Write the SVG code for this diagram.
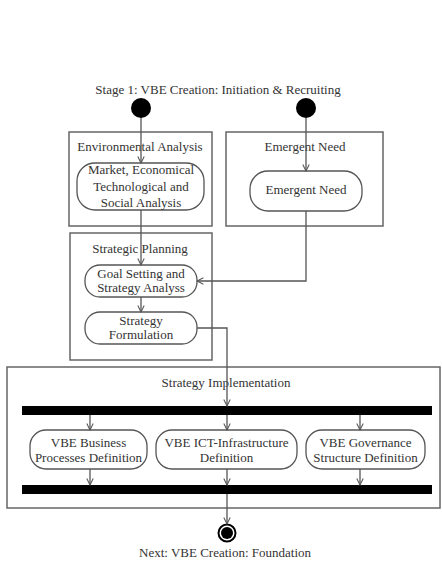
<svg xmlns="http://www.w3.org/2000/svg" width="442" height="564" viewBox="0 0 442 564">
<defs>
<style>
text{font-family:"Liberation Serif","Times New Roman",serif;font-size:13px;fill:#333;text-anchor:middle}
.box{fill:none;stroke:#666;stroke-width:1.5}
.act{fill:#fff;stroke:#555;stroke-width:1.3}
.bar{fill:#000}
.con{fill:none;stroke:#555;stroke-width:1.3}
</style>
<marker id="arr" viewBox="0 0 10 10" refX="9" refY="5" markerWidth="8" markerHeight="8" orient="auto" markerUnits="userSpaceOnUse">
<path d="M1,1 L9,5 L1,9" fill="none" stroke="#555" stroke-width="1.3"/>
</marker>
</defs>
<rect width="442" height="564" fill="#fff"/>
<text x="218" y="94">Stage 1: VBE Creation: Initiation &amp; Recruiting</text>
<g id="partitions">
<g id="env-box"><rect class="box" x="69" y="132" width="143" height="94"/><text x="140" y="151">Environmental Analysis</text></g>
<g id="em-box"><rect class="box" x="226" y="132" width="157" height="94"/><text x="305" y="151">Emergent Need</text></g>
<g id="sp-box"><rect class="box" x="70" y="233" width="142" height="127"/><text x="140" y="253">Strategic Planning</text></g>
<g id="si-box"><rect class="box" x="7" y="367" width="433" height="141"/><text x="226" y="387">Strategy Implementation</text></g>
</g>
<g id="start1"><circle cx="141" cy="108" r="10" fill="#000"/></g>
<g id="start2"><circle cx="306" cy="108" r="10" fill="#000"/></g>
<g id="market"><rect class="act" x="77" y="163" width="127" height="47" rx="18"/><text x="141" y="174">Market, Economical</text><text x="141" y="191">Technological and</text><text x="141" y="207">Social Analysis</text></g>
<g id="emergent"><rect class="act" x="250" y="171" width="112" height="40" rx="18"/><text x="306" y="194">Emergent Need</text></g>
<g id="goal"><rect class="act" x="85" y="265" width="112" height="32" rx="15"/><text x="141" y="278">Goal Setting and</text><text x="141" y="292">Strategy Analyss</text></g>
<g id="formulation"><rect class="act" x="85" y="312" width="112" height="32" rx="15"/><text x="141" y="325">Strategy</text><text x="141" y="339">Formulation</text></g>
<g id="fork"><rect class="bar" x="22" y="406" width="410" height="9"/></g>
<g id="join"><rect class="bar" x="22" y="485" width="410" height="9"/></g>
<g id="business"><rect class="act" x="30" y="430" width="117" height="39" rx="16"/><text x="88.5" y="447">VBE Business</text><text x="88.5" y="462">Processes Definition</text></g>
<g id="ict"><rect class="act" x="156" y="430" width="141" height="39" rx="16"/><text x="226.5" y="447">VBE ICT-Infrastructure</text><text x="226.5" y="462">Definition</text></g>
<g id="governance"><rect class="act" x="306" y="430" width="119" height="39" rx="16"/><text x="365.5" y="447">VBE Governance</text><text x="365.5" y="462">Structure Definition</text></g>
<g id="end"><circle cx="227" cy="533" r="8.5" fill="#fff" stroke="#000" stroke-width="2"/><circle cx="227" cy="533" r="6" fill="#000"/></g>
<text x="225" y="557">Next: VBE Creation: Foundation</text>
<g id="connectors">
<path class="con" d="M141,118 V163" marker-end="url(#arr)"/>
<path class="con" d="M141,210 V265" marker-end="url(#arr)"/>
<path class="con" d="M141,297 V312" marker-end="url(#arr)"/>
<path class="con" d="M306,118 V171" marker-end="url(#arr)"/>
<path class="con" d="M306,211 V281 H197" marker-end="url(#arr)"/>
<path class="con" d="M197,328 H227 V406" marker-end="url(#arr)"/>
<path class="con" d="M90,415 V430" marker-end="url(#arr)"/>
<path class="con" d="M227,415 V430" marker-end="url(#arr)"/>
<path class="con" d="M360,415 V430" marker-end="url(#arr)"/>
<path class="con" d="M90,469 V485" marker-end="url(#arr)"/>
<path class="con" d="M227,469 V485" marker-end="url(#arr)"/>
<path class="con" d="M360,469 V485" marker-end="url(#arr)"/>
<path class="con" d="M227,494 V524" marker-end="url(#arr)"/>
</g>
</svg>
